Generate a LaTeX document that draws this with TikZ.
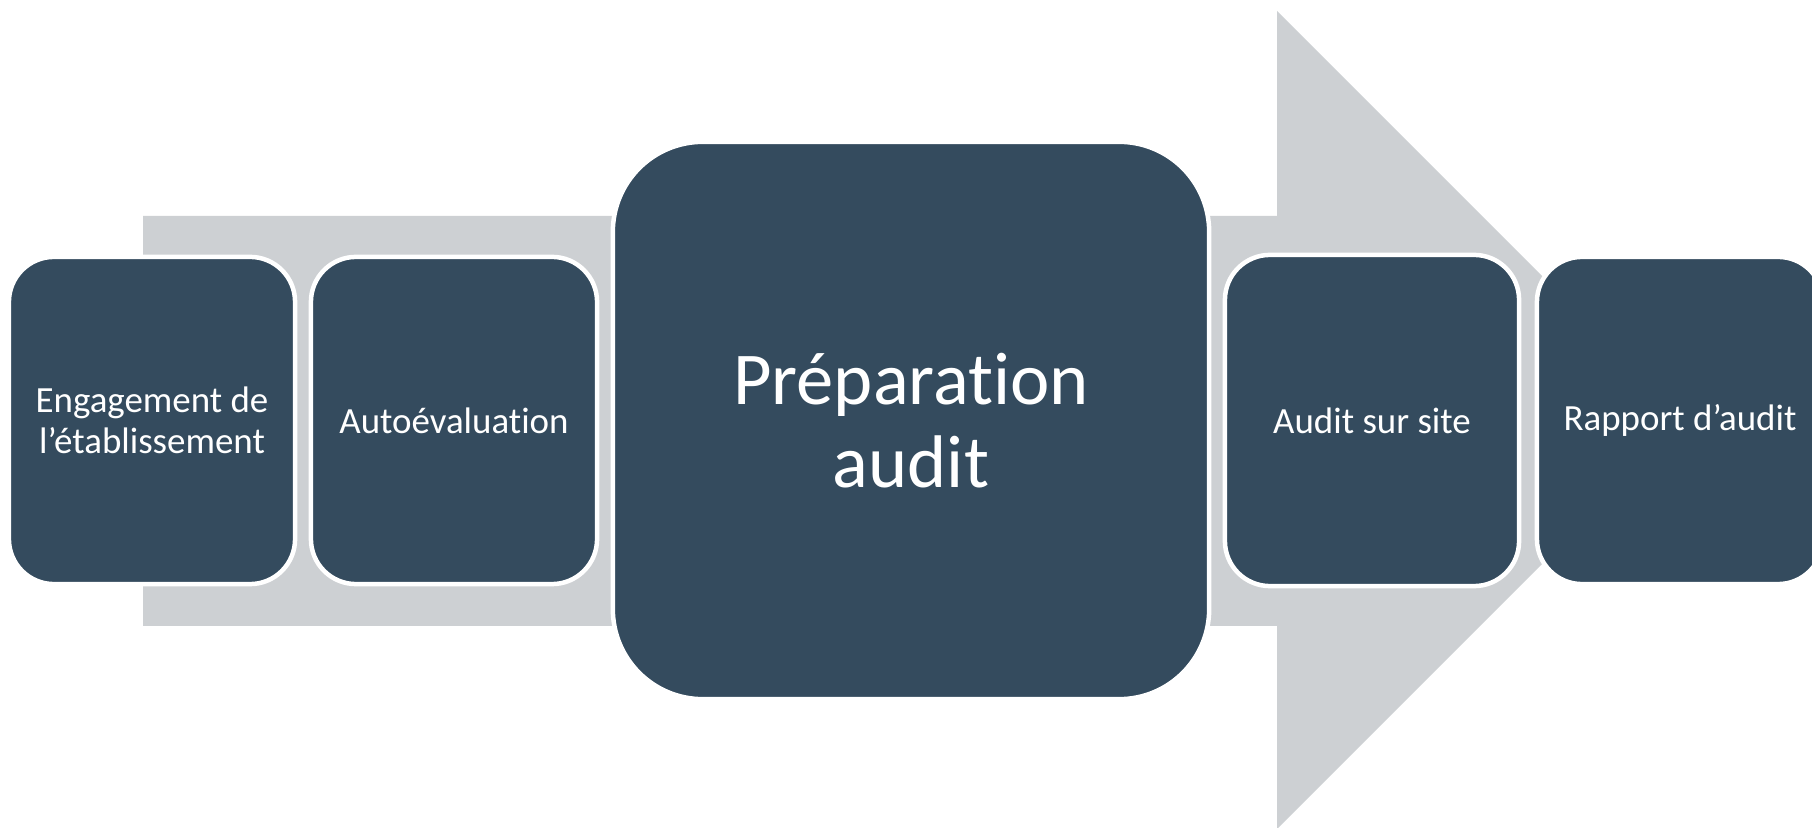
\documentclass[tikz,border=0pt]{standalone}
\usepackage{fontspec}
\setmainfont[Ligatures=NoCommon]{Carlito}
\definecolor{n}{RGB}{52, 75, 94}
\definecolor{g}{RGB}{205, 208, 211}

\begin{document}
\begin{tikzpicture}[x=0.01cm, y=-0.01cm,
    etape/.style={fill=n, draw=white, line width=0.045cm, rounded corners=0.45cm,
      text=white, align=center, minimum width=2.86cm, minimum height=3.27cm,
      font=\fontsize{10.5}{11.8}\selectfont},
    grande/.style={etape, rounded corners=0.9cm, minimum width=5.96cm,
      minimum height=5.57cm, font=\fontsize{21.2}{23.6}\selectfont}]
      \useasboundingbox (0,0) rectangle (1812,828);
      \clip (0,0) rectangle (1812,828);
      \fill[g] (143,216) -- (1277,216) -- (1277,11) -- (1686,420) -- (1277,829)
            -- (1277,626) -- (143,626) -- cycle;

      \node[etape] (A) at (152, 420.5)   {Engagement de\\l’établissement};
      \node[etape] (B) at (454, 420.5)   {Autoévaluation};
      \node[grande] (C) at (911, 420.5)  {Préparation\\audit};
      \node[etape, minimum width=2.94cm, minimum height=3.31cm] (D) at (1372, 420.5) {Audit sur site};
      \node[etape] (E) at (1680, 420.5)  {Rapport d’audit};
\end{tikzpicture}
\end{document}
